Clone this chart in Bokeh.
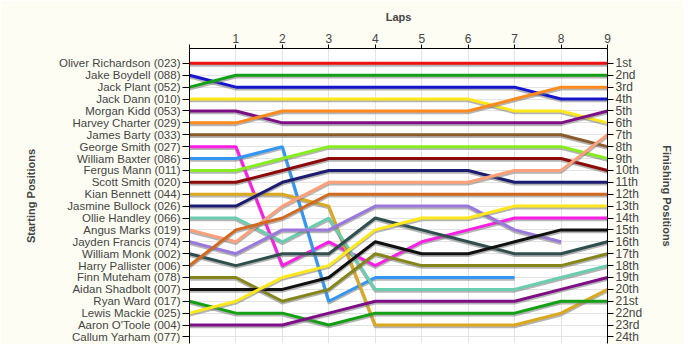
from bokeh.plotting import figure
from bokeh.models import Range1d, LinearAxis, FixedTicker
from bokeh.embed import file_html
from bokeh.resources import INLINE

laps = [0, 1, 2, 3, 4, 5, 6, 7, 8, 9]

drivers = ["Oliver Richardson (023)", "Jake Boydell (088)", "Jack Plant (052)", "Jack Dann (010)",
           "Morgan Kidd (053)", "Harvey Charter (029)", "James Barty (033)", "George Smith (027)",
           "William Baxter (086)", "Fergus Mann (011)", "Scott Smith (020)", "Kian Bennett (044)",
           "Jasmine Bullock (026)", "Ollie Handley (066)", "Angus Marks (019)", "Jayden Francis (074)",
           "William Monk (002)", "Harry Pallister (006)", "Finn Muteham (078)", "Aidan Shadbolt (007)",
           "Ryan Ward (017)", "Lewis Mackie (025)", "Aaron O'Toole (004)", "Callum Yarham (077)"]

finish_labels = ["1st", "2nd", "3rd", "4th", "5th", "6th", "7th", "8th", "9th", "10th", "11th", "12th",
                 "13th", "14th", "15th", "16th", "17th", "18th", "19th", "20th", "21st", "22nd", "23rd", "24th"]

N = float("nan")
pos_richardson = [1, 1, 1, 1, 1, 1, 1, 1, 1, 1]
pos_boydell = [2, 3, 3, 3, 3, 3, 3, 3, 4, 4]
pos_plant = [3, 2, 2, 2, 2, 2, 2, 2, 2, 2]
pos_dann = [4, 4, 4, 4, 4, 4, 4, 5, 5, 6]
pos_kidd = [5, 5, 6, 6, 6, 6, 6, 6, 6, 5]
pos_charter = [6, 6, 5, 5, 5, 5, 5, 4, 3, 3]
pos_barty = [7, 7, 7, 7, 7, 7, 7, 7, 7, 8]
pos_gsmith = [8, 8, 18, 16, 18, 16, 15, 14, 14, 14]
pos_baxter = [9, 9, 8, 21, 19, 19, 19, 19, N, N]
pos_mann = [10, 10, 9, 8, 8, 8, 8, 8, 8, 9]
pos_ssmith = [11, 11, 10, 9, 9, 9, 9, 9, 9, 10]
pos_bennett = [12, 12, 12, 13, 23, 23, 23, 23, 22, 20]
pos_bullock = [13, 13, 11, 10, 10, 10, 10, 11, 11, 11]
pos_handley = [14, 14, 16, 14, 20, 20, 20, 20, 19, 18]
pos_marks = [15, 16, 13, 11, 11, 11, 11, 10, 10, 7]
pos_francis = [16, 17, 15, 15, 13, 13, 13, 15, 16, N]
pos_monk = [17, 18, 17, 17, 14, 15, 16, 17, 17, 16]
pos_pallister = [18, 15, 14, 12, 12, 12, 12, 12, 12, 12]
pos_muteham = [19, 19, 21, 20, 17, 18, 18, 18, 18, 17]
pos_shadbolt = [20, 20, 20, 19, 16, 17, 17, 16, 15, 15]
pos_ward = [21, 22, 22, 23, 22, 22, 22, 22, 21, 21]
pos_mackie = [22, 21, 19, 18, 15, 14, 14, 13, 13, 13]
pos_otoole = [23, 23, 23, 22, 21, 21, 21, 21, 20, 19]
pos_yarham = [N, N, N, N, N, N, N, N, N, N]

series = [pos_richardson, pos_boydell, pos_plant, pos_dann, pos_kidd, pos_charter, pos_barty,
          pos_gsmith, pos_baxter, pos_mann, pos_ssmith, pos_bennett, pos_bullock, pos_handley,
          pos_marks, pos_francis, pos_monk, pos_pallister, pos_muteham, pos_shadbolt, pos_ward,
          pos_mackie, pos_otoole, pos_yarham]

colors = ["#EE1111", "#1515CC", "#14A014", "#FFE81A", "#7E0E86", "#FF8A1E", "#8B5A2B",
          "#FF1EE6", "#3196F5", "#86EE1E", "#8E0A0A", "#DCA81E", "#1C1C70", "#6ACDB0",
          "#FFA07A", "#9A78DC", "#2F4F4F", "#D2691E", "#85851A", "#111111", "#14A014",
          "#FFE81A", "#7E0E86", "#888888"]

FONT = "Liberation Sans"

p = figure(width=684, height=344, output_backend="svg", toolbar_location=None,
           x_range=Range1d(0, 9), y_range=Range1d(24.55, -0.25), x_axis_location="above",
           min_border_left=189, min_border_right=77, min_border_top=48, min_border_bottom=1,
           background_fill_color="#FFFFFF", border_fill_color="#FDFDF3")
p.outline_line_color = None

# grid
p.xgrid.ticker = FixedTicker(ticks=laps)
p.ygrid.ticker = FixedTicker(ticks=list(range(1, 25)))
p.xgrid.grid_line_color = "#E4E4E4"
p.ygrid.grid_line_color = "#E4E4E4"

# top axis
xa = p.xaxis[0]
xa.ticker = FixedTicker(ticks=laps)
xa.major_label_overrides = {0: ""}
xa.axis_label = "Laps"
xa.axis_label_text_font = FONT
xa.axis_label_text_font_style = "bold"
xa.axis_label_text_font_size = "11px"
xa.axis_label_standoff = 8
xa.major_label_text_font = FONT
xa.major_label_text_font_size = "12px"
xa.major_label_standoff = 2
xa.major_tick_out = 4
xa.major_tick_in = 0
xa.minor_tick_line_color = None
xa.axis_line_color = "black"
xa.major_tick_line_color = "black"

# left axis
ya = p.yaxis[0]
ya.ticker = FixedTicker(ticks=list(range(1, 25)))
ya.major_label_overrides = {i + 1: n for i, n in enumerate(drivers)}
ya.axis_label = "Starting Positions"
ya.axis_label_text_font = FONT
ya.axis_label_text_font_style = "bold"
ya.axis_label_text_font_size = "11px"
ya.axis_label_standoff = 19
ya.major_label_text_font = FONT
ya.major_label_text_font_size = "11.5px"
ya.major_label_standoff = 2
ya.major_tick_out = 7
ya.major_tick_in = 0
ya.minor_tick_line_color = None

# right axis
ra = LinearAxis(ticker=FixedTicker(ticks=list(range(1, 25))))
ra.major_label_overrides = {i + 1: n for i, n in enumerate(finish_labels)}
ra.axis_label = "Finishing Positions"
ra.axis_label_text_font = FONT
ra.axis_label_text_font_style = "bold"
ra.axis_label_text_font_size = "11px"
ra.axis_label_standoff = 16
ra.major_label_text_font = FONT
ra.major_label_text_font_size = "12px"
ra.major_label_standoff = 2
ra.major_tick_out = 6
ra.major_tick_in = 0
ra.minor_tick_line_color = None
p.add_layout(ra, "right")

SHADOW = 0.15
for ys, c in zip(series, colors):
    sh = [y + SHADOW for y in ys]
    p.line(laps, sh, line_color="#777777", line_alpha=0.55, line_width=3)
    p.line(laps, ys, line_color=c, line_width=3)

open("out.html", "w").write(file_html(p, INLINE))
